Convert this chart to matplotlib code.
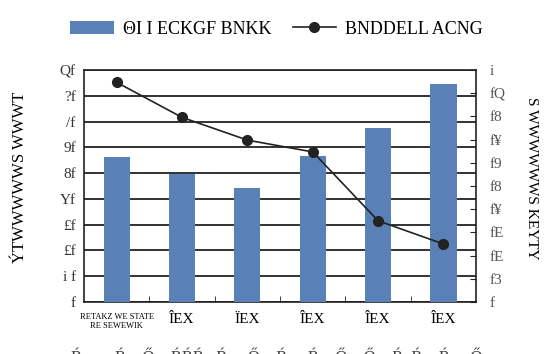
import numpy as np
import matplotlib
matplotlib.use("Agg")
import matplotlib.pyplot as plt

# data
categories = ["RETAKZ WE STATE\nRE SEWEWIK", "ÎEX", "ÏEX", "ÎEX", "ÎEX", "ÎEX"]
bar_values = [56.3, 49.7, 44.4, 56.7, 67.6, 84.6]
line_values = [0.947, 0.796, 0.698, 0.647, 0.350, 0.250]
left_ticklabels = ["f", "i f", "£f", "£f", "Yf", "8f", "9f", "/f", "?f", "Qf"]
right_ticklabels = ["f", "f3", "fE", "fE", "f¥", "f8", "f9", "f¥", "f8", "fQ", "i"]
bar_label = "ΘI I ECKGF BNKK"
line_label = "BNDDELL ACNG"
left_ylabel = "ÝTWWWWWS WWWT"
right_ylabel = "S WWWWWWS KEYTY"

plt.rcParams["font.family"] = ["Liberation Serif", "DejaVu Serif"]

fig = plt.figure(figsize=(5.53, 3.54), dpi=100)
ax = fig.add_axes([0.152, 0.147, 0.709, 0.655])
x = np.arange(len(categories))

bars = ax.bar(x, bar_values, width=0.4, color="#5a80b8", zorder=3, label=bar_label)
ax.set_xlim(-0.5, len(categories) - 0.5)
ax.set_ylim(0, 90)
ax.set_yticks(np.arange(0, 91, 10))
ax.set_yticklabels(left_ticklabels, fontsize=11, color="#333333")
ax.tick_params(axis="y", length=0, pad=6)
ax.grid(axis="y", color="#222222", linewidth=1.3, zorder=0)
ax.set_axisbelow(True)

ax.set_xticks(x)
ax.set_xticklabels(categories, fontsize=11)
ax.set_xticks(np.arange(0.5, len(categories) - 1, 1), minor=True)
ax.tick_params(axis="x", which="major", length=0, pad=8)
ax.tick_params(axis="x", which="minor", length=4, direction="in", color="#222222")
ax.get_xticklabels()[0].set_fontsize(6)

for s in ax.spines.values():
    s.set_color("#222222")
    s.set_linewidth(1.2)

ax2 = ax.twinx()
line, = ax2.plot(x, line_values, color="#222222", linewidth=1.2, marker="o",
                 markersize=7, label=line_label, zorder=4)
ax2.set_ylim(0, 1.0)
ax2.set_yticks(np.linspace(0, 1, 11))
ax2.set_yticklabels(right_ticklabels, fontsize=11, color="#555555")
ax2.tick_params(axis="y", direction="in", length=4, pad=10, color="#222222")
for s in ax2.spines.values():
    s.set_visible(False)

fig.text(0.036, 0.5, left_ylabel, rotation=90, ha="center", va="center", fontsize=12)
fig.text(0.962, 0.497, right_ylabel, rotation=-90, ha="center", va="center", fontsize=11)

fig.legend([bars, line], [bar_label, line_label], loc="center", bbox_to_anchor=(0.5, 0.918),
           ncol=2, frameon=False, fontsize=13, handlelength=2.4, columnspacing=1.2,
           handletextpad=0.5)

fig.text(0.5, 0.012, "Ŕ        Ŕ    Ő    ŔŔŔ   Ŕ     Ő    Ŕ     Ŕ    Ő    Ő    Ŕ  Ŕ    Ŕ     Ő",
         ha="center", va="top", fontsize=12, color="#444444")

fig.savefig("out.png", dpi=100)
